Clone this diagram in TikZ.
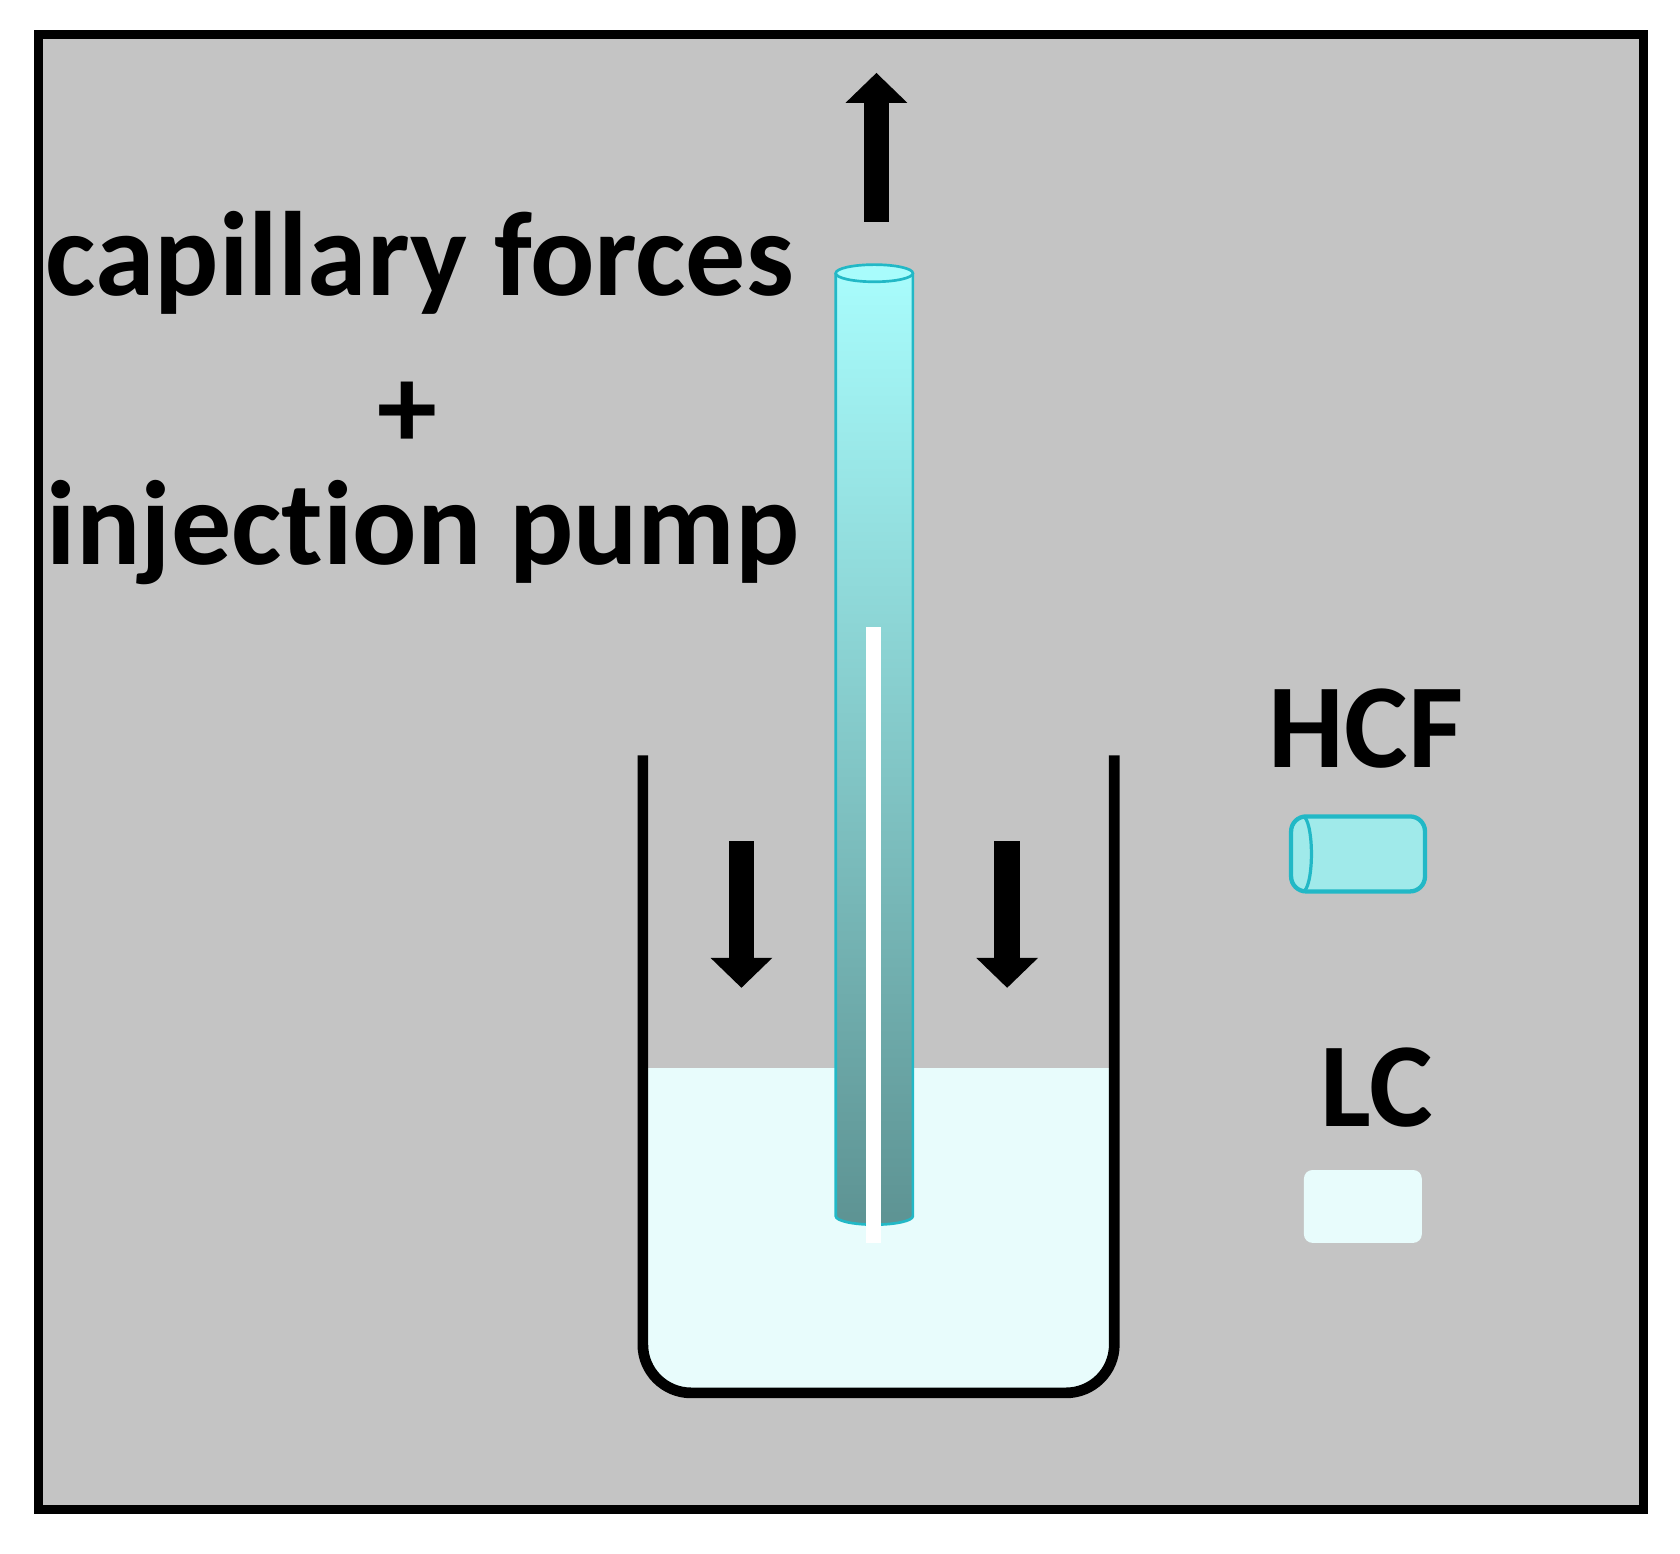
\documentclass[tikz,border=0pt]{standalone}
\usepackage{fontspec}
\setmainfont{Carlito}[Ligatures=NoCommon]
\usetikzlibrary{arrows.meta}
\definecolor{bg}{HTML}{C4C4C4}
\definecolor{liq}{HTML}{E8FCFC}
\definecolor{tubetop}{HTML}{A8FCFC}
\definecolor{tubebot}{HTML}{5E9494}
\definecolor{tubeedge}{HTML}{22B8C6}
\definecolor{hcf}{HTML}{A0EAEA}
\begin{document}
\begin{tikzpicture}[x=1pt,y=-1pt,
  lbl/.style={font=\bfseries\fontsize{112}{120}\selectfont, inner sep=0pt},
  bigarrow/.style={line width=24pt, -{Triangle[width=56pt,length=28pt]}}]
\useasboundingbox (0,0) rectangle (1568,1450);
\fill[white] (0,0) rectangle (1568,1450);
\fill[black!35] (40,36) rectangle (1538,1413);
\node[draw=black, line width=8pt, fill=bg, minimum width=1498pt, minimum height=1377pt, anchor=north west, inner sep=0pt] (frame) at (32,28) {};
% texts
\node[lbl] (t1) at (392,245) {capillary forces};
\node[lbl] (t2) at (380,388) {+};
\node[lbl] (t3) at (395,497) {injec\kern0pt tion pump};
\node[lbl] (hcf) at (1275,680) {HCF};
\node[lbl] (lc) at (1285,1015) {LC};
% liquid
\fill[liq, rounded corners=40pt] (604,997) -- (604,1298) -- (1036,1298) -- (1036,997);
\fill[liq] (604,997) rectangle (1036,1150);
% beaker
\draw[line width=10pt, rounded corners=45pt] (600,705) -- (600,1300) -- (1040,1300) -- (1040,705);
% tube
\shade[top color=tubetop, bottom color=tubebot] (780,255) rectangle (852,1135);
\fill[tubebot] (780,1135) arc[start angle=180,end angle=360,x radius=36,y radius=-8] -- cycle;
\draw[tubeedge, line width=2.5pt] (780,255) -- (780,1135) arc[start angle=180,end angle=360,x radius=36,y radius=-8] -- (852,255);
\draw[tubeedge, line width=2.5pt, fill=tubetop] (816,255) ellipse[x radius=36, y radius=8];
\fill[white] (808,585) rectangle (822,1160);
% arrows
\coordinate (u1) at (818,207); \coordinate (u2) at (818,68);
\draw[bigarrow] (u1) -- (u2);
\coordinate (d1) at (692,785); \coordinate (d2) at (692,922);
\draw[bigarrow] (d1) -- (d2);
\coordinate (e1) at (940,785); \coordinate (e2) at (940,922);
\draw[bigarrow] (e1) -- (e2);
% legend
\draw[tubeedge, line width=4pt, fill=hcf, rounded corners=14pt] (1205,762) rectangle (1330,832);
\draw[tubeedge, line width=3pt] (1216,762) arc[start angle=90,end angle=270,x radius=-8,y radius=-35];
\fill[liq, rounded corners=8pt] (1217,1092) rectangle (1327,1160);
\end{tikzpicture}
\end{document}
